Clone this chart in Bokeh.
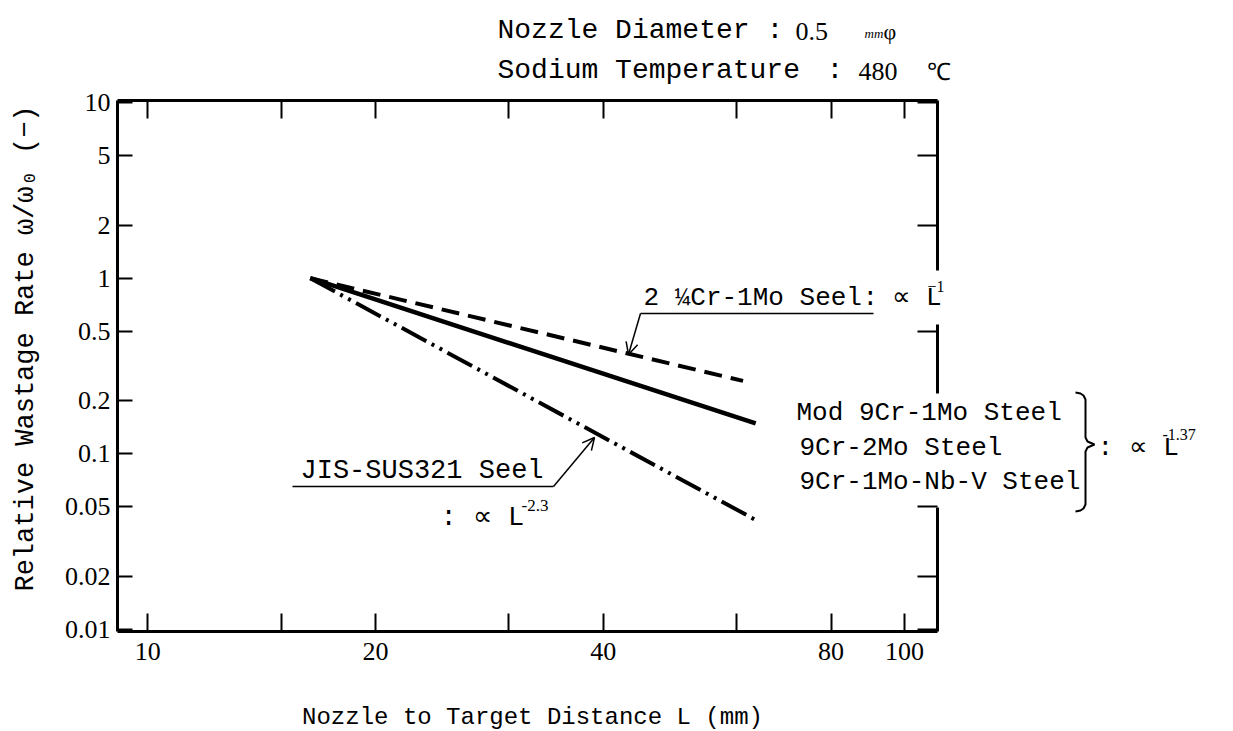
import math
from bokeh.plotting import figure
from bokeh.models import Range1d, LogAxis, FixedTicker, Label, Arrow, OpenHead
from bokeh.embed import file_html
from bokeh.resources import INLINE

# ---- data ----
L_crmo = [16.4, 61.2]      # 2 1/4Cr-1Mo steel (dashed)
w_crmo = [1.0, 0.26]
L_mod9 = [16.4, 63.6]      # Mod 9Cr-1Mo / 9Cr-2Mo / 9Cr-1Mo-Nb-V (solid)
w_mod9 = [1.0, 0.149]
L_sus = [16.4, 64.2]       # JIS-SUS321 (dash-dot-dot)
w_sus = [1.0, 0.041]

x_ticks = [10, 15, 20, 30, 40, 60, 80, 100]
x_tick_labels = ["10", "", "20", "", "40", "", "80", "100"]
y_ticks = [0.01, 0.02, 0.05, 0.1, 0.2, 0.5, 1, 2, 5, 10]
y_tick_labels = ["0.01", "0.02", "0.05", "0.1", "0.2", "0.5", "1", "2", "5", "10"]

# plot box limits
x_min, x_max = 9.12, 110.6
y_min, y_max = 0.0097, 10.3

# plot box placement on the page (pixels)
FL, FR, FT, FB = 117, 937, 100, 631
W, H = 1233, 731


def dx(px):
    a, b = math.log10(x_min), math.log10(x_max)
    return 10 ** (a + (px - FL) / (FR - FL) * (b - a))


def dy(py):
    a, b = math.log10(y_min), math.log10(y_max)
    return 10 ** (a + (FB - py) / (FB - FT) * (b - a))


# the frame covers the whole page; the axes are drawn at the plot box edges
p = figure(width=W, height=H, x_axis_type="log", y_axis_type="log",
           x_axis_location=None, y_axis_location=None,
           x_range=Range1d(dx(0), dx(W)), y_range=Range1d(dy(H), dy(0)),
           output_backend="svg", toolbar_location=None,
           min_border=0, min_border_left=0, min_border_right=0,
           min_border_top=0, min_border_bottom=0,
           background_fill_color="white", border_fill_color="white",
           outline_line_color=None)
p.grid.visible = False

SERIF = "Liberation Serif"
MONO = "Liberation Mono"


def make_axis(ticks, labels, tick_in, standoff, loc, bounds):
    ax = LogAxis(fixed_location=loc, bounds=bounds)
    ax.ticker = FixedTicker(ticks=ticks)
    ax.major_label_overrides = dict(zip(ticks, labels))
    ax.major_tick_in = tick_in
    ax.major_tick_out = 0
    ax.minor_tick_line_color = None
    ax.major_tick_line_width = 2
    ax.major_tick_line_color = "black"
    ax.axis_line_width = 3
    ax.axis_line_color = "black"
    ax.major_label_text_font = SERIF
    ax.major_label_text_font_size = "26px"
    ax.major_label_text_color = "black"
    ax.major_label_standoff = standoff
    return ax


bottom_ax = make_axis(x_ticks, x_tick_labels, 18, 11, y_min, (x_min, x_max))
p.add_layout(bottom_ax, "below")
left_ax = make_axis(y_ticks, y_tick_labels, 15, 7, x_min, (y_min, y_max))
p.add_layout(left_ax, "left")
top_ax = make_axis(x_ticks, [""] * len(x_ticks), 18, 2, y_max, (x_min, x_max))
p.add_layout(top_ax, "above")
right_ax = make_axis(y_ticks, [""] * len(y_ticks), 20, 2, x_max, (y_min, y_max))
right_ax.axis_line_color = None
p.add_layout(right_ax, "right")

# ---- data lines ----
p.line(L_crmo, w_crmo, line_dash="18 9", line_width=4, line_color="black")
p.line(L_mod9, w_mod9, line_width=4.5, line_color="black")
p.line(L_sus, w_sus, line_dash="28 6 3 6 3 6", line_width=4, line_color="black")


def seg(x0, y0, x1, y1, width=1.5, head=False):
    end = OpenHead(size=12, line_width=1.5, line_color="black") if head else None
    p.add_layout(Arrow(end=end, x_start=dx(x0), y_start=dy(y0), x_end=dx(x1), y_end=dy(y1),
                       line_width=width, line_color="black"))


# right border, broken where texts cross it
seg(FR, FT, FR, 272, 3)
seg(FR, 322, FR, 393, 3)
seg(FR, 507, FR, FB, 3)


def lab(text, px, py, size="26px", font=MONO, align="left", angle=0.0,
        bg=None, style="normal", pad=0):
    kw = dict(x=dx(px), y=dy(py), text=text, text_font=font, text_font_size=size,
              text_align=align, text_baseline="middle", angle=angle,
              text_color="black", text_font_style=style)
    if bg is not None:
        kw.update(background_fill_color=bg, padding=pad)
    p.add_layout(Label(**kw))


# header
lab("Nozzle Diameter", 497, 30, "28px")
lab(":", 766, 30, "28px")
lab("0.5", 795, 31, "26px", SERIF)
lab("mm", 864, 33, "13px", SERIF, style="italic")
lab("φ", 883, 31, "22px", SERIF)
lab("Sodium Temperature", 497, 70, "28px")
lab(":", 826, 70, "28px")
lab("480", 858, 71, "26px", SERIF)
lab("℃", 926, 71, "24px", SERIF)

# axis titles
lab("Relative Wastage Rate ω/ω₀ (−)", 25, 348, "27px", align="center", angle=math.pi / 2)
lab("Nozzle to Target Distance L (mm)", 532, 717, "24px", align="center")

# 2 1/4Cr-1Mo annotation (its white box also breaks the right border)
lab("∝ L", 879, 297, "26px", bg="white", pad=12)
lab("2 ¼Cr-1Mo Seel", 643, 297, "26px")
lab(":", 862, 297, "26px")
lab("−1", 927, 286, "16px", SERIF)
seg(640, 313, 873, 313)
seg(640, 313, 628, 354, head=True)

# 9Cr group annotation
lab("Mod 9Cr-1Mo Steel", 793, 412, "26px", bg="white", pad=3)
lab("9Cr-2Mo Steel", 796, 447, "26px", bg="white", pad=3)
lab("9Cr-1Mo-Nb-V Steel", 796, 481, "26px", bg="white", pad=3)
brace_px = [(1075, 392), (1080, 393), (1083, 395), (1085, 399), (1085, 437), (1087, 441),
            (1094, 444), (1087, 447), (1085, 451), (1085, 504), (1083, 508), (1080, 510),
            (1075, 511)]
p.line([dx(a) for a, b in brace_px], [dy(b) for a, b in brace_px],
       line_width=2, line_color="black")
lab(": ∝ L", 1097, 447, "26px")
lab("-1.37", 1162, 434, "16px", SERIF)

# JIS-SUS321 annotation
lab("JIS-SUS321 Seel", 300, 470, "27px")
seg(292, 486, 553, 486)
seg(553, 486, 594, 437, head=True)
lab(": ∝ L", 440, 517, "27px")
lab("-2.3", 521, 505, "17px", SERIF)

open("out.html", "w").write(file_html(p, INLINE))
